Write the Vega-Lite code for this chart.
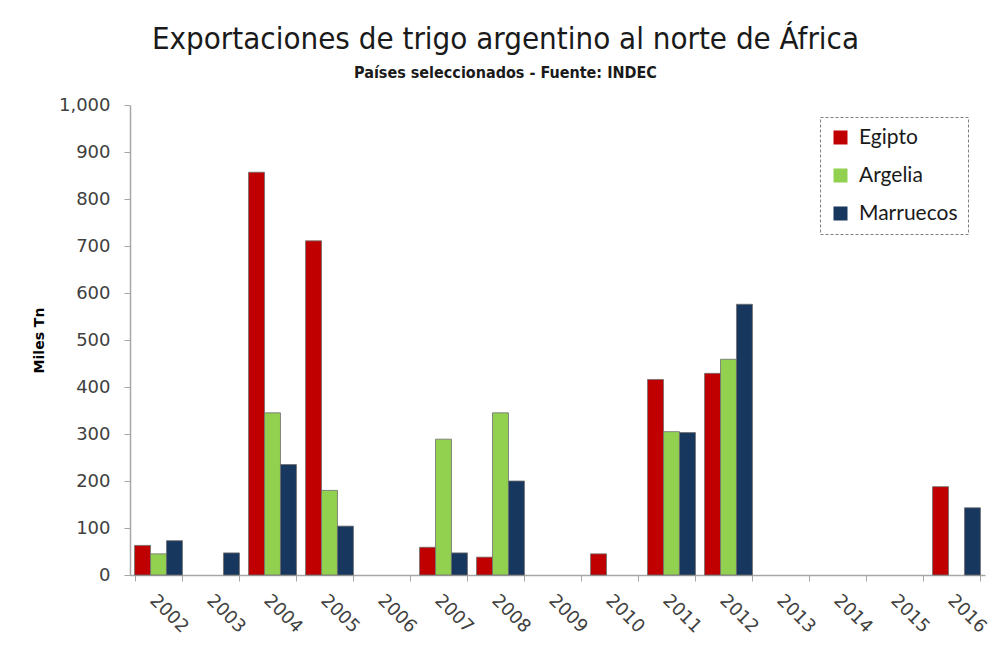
{
  "$schema": "https://vega.github.io/schema/vega-lite/v6.json",
  "autosize": {"type": "none"},
  "padding": {"left": 130, "top": 105, "right": 10, "bottom": 77},
  "width": 855,
  "height": 470,
  "background": "white",
  "title": {
    "text": "Exportaciones de trigo argentino al norte de África",
    "subtitle": "Países seleccionados - Fuente: INDEC",
    "anchor": "middle",
    "dx": -52,
    "font": "DejaVu Sans Condensed",
    "fontSize": 31,
    "fontWeight": "normal",
    "color": "#1a1a1a",
    "subtitleFont": "DejaVu Sans Condensed",
    "subtitleFontSize": 16,
    "subtitleFontWeight": "bold",
    "subtitleColor": "#1a1a1a",
    "subtitlePadding": 9,
    "offset": 14
  },
  "data": {
    "values": [
      {"anio": "2002", "pais": "Egipto", "miles": 63},
      {"anio": "2002", "pais": "Argelia", "miles": 45},
      {"anio": "2002", "pais": "Marruecos", "miles": 73},
      {"anio": "2003", "pais": "Marruecos", "miles": 47},
      {"anio": "2004", "pais": "Egipto", "miles": 857},
      {"anio": "2004", "pais": "Argelia", "miles": 345},
      {"anio": "2004", "pais": "Marruecos", "miles": 235},
      {"anio": "2005", "pais": "Egipto", "miles": 711},
      {"anio": "2005", "pais": "Argelia", "miles": 180},
      {"anio": "2005", "pais": "Marruecos", "miles": 104},
      {"anio": "2007", "pais": "Egipto", "miles": 59},
      {"anio": "2007", "pais": "Argelia", "miles": 289},
      {"anio": "2007", "pais": "Marruecos", "miles": 47},
      {"anio": "2008", "pais": "Egipto", "miles": 38},
      {"anio": "2008", "pais": "Argelia", "miles": 345},
      {"anio": "2008", "pais": "Marruecos", "miles": 200},
      {"anio": "2010", "pais": "Egipto", "miles": 45},
      {"anio": "2011", "pais": "Egipto", "miles": 416},
      {"anio": "2011", "pais": "Argelia", "miles": 305},
      {"anio": "2011", "pais": "Marruecos", "miles": 303},
      {"anio": "2012", "pais": "Egipto", "miles": 429},
      {"anio": "2012", "pais": "Argelia", "miles": 459},
      {"anio": "2012", "pais": "Marruecos", "miles": 576},
      {"anio": "2016", "pais": "Egipto", "miles": 188},
      {"anio": "2016", "pais": "Marruecos", "miles": 143}
    ]
  },
  "mark": {"type": "bar", "stroke": "#6e6e6e", "strokeWidth": 0.8},
  "encoding": {
    "x": {
      "field": "anio",
      "type": "nominal",
      "scale": {
        "domain": ["2002","2003","2004","2005","2006","2007","2008","2009","2010","2011","2012","2013","2014","2015","2016"],
        "paddingInner": 0.16,
        "paddingOuter": 0.08
      },
      "axis": {
        "title": null,
        "labelAngle": 45,
        "labelAlign": "left",
        "labelBaseline": "top",
        "labelFont": "DejaVu Sans",
        "labelFontSize": 18,
        "labelColor": "#404040",
        "labelPadding": 10,
        "labelDx": 6,
        "tickBand": "extent",
        "tickSize": 6,
        "tickColor": "#a6a6a6",
        "domainColor": "#a6a6a6",
        "domainWidth": 1.5
      }
    },
    "xOffset": {
      "field": "pais",
      "type": "nominal",
      "scale": {"domain": ["Egipto", "Argelia", "Marruecos"], "padding": 0}
    },
    "y": {
      "field": "miles",
      "type": "quantitative",
      "scale": {"domain": [0, 1000], "nice": false},
      "axis": {
        "title": "Miles Tn",
        "titleFont": "DejaVu Sans",
        "titleFontSize": 14,
        "titleFontWeight": "bold",
        "titleColor": "#000000",
        "titlePadding": 12,
        "values": [0,100,200,300,400,500,600,700,800,900,1000],
        "format": ",d",
        "grid": false,
        "labelFont": "DejaVu Sans",
        "labelFontSize": 18,
        "labelColor": "#404040",
        "labelPadding": 14,
        "tickSize": 6,
        "tickColor": "#a6a6a6",
        "domainColor": "#a6a6a6",
        "domainWidth": 1.5
      }
    },
    "color": {
      "field": "pais",
      "type": "nominal",
      "scale": {
        "domain": ["Egipto", "Argelia", "Marruecos"],
        "range": ["#C00000", "#92D050", "#17375E"]
      },
      "legend": {
        "title": null,
        "orient": "none",
        "legendX": 690,
        "legendY": 12,
        "symbolType": "square",
        "symbolSize": 196,
        "symbolStrokeWidth": 0,
        "symbolOpacity": 1,
        "labelFont": "Lato",
        "labelFontSize": 21,
        "labelColor": "#1a1a1a",
        "labelOffset": 8,
        "rowPadding": 16,
        "padding": 10,
        "strokeColor": "#7f7f7f",
        "fillColor": "white"
      }
    }
  },
  "config": {"view": {"stroke": null}, "legend": {"strokeDash": [3, 2]}}
}
